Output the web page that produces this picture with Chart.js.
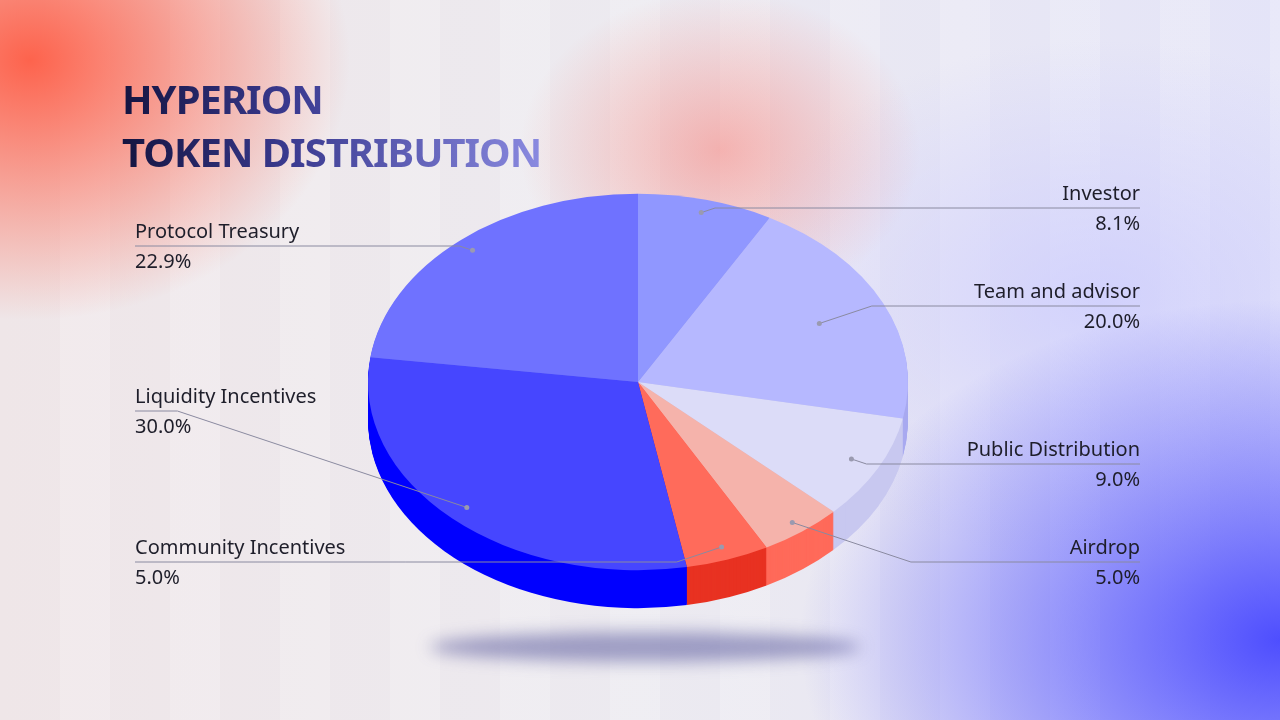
<!DOCTYPE html>
<html><head><meta charset="utf-8">
<script src="https://cdn.jsdelivr.net/npm/chart.js@4/dist/chart.umd.min.js"></script>
<style>
html,body{margin:0;padding:0;width:1280px;height:720px;overflow:hidden}
body{background:
 radial-gradient(ellipse 320px 260px at 30px 60px, rgba(255,85,60,0.9), rgba(255,85,60,0) 100%),
 radial-gradient(ellipse 200px 160px at 720px 150px, rgba(250,120,110,0.5), rgba(250,120,110,0) 100%),
 radial-gradient(ellipse 480px 340px at 1280px 640px, rgba(70,70,255,0.95), rgba(70,70,255,0) 100%),
 radial-gradient(ellipse 380px 260px at 1100px 300px, rgba(200,200,255,0.7), rgba(200,200,255,0) 100%),
 repeating-linear-gradient(90deg, rgba(255,255,255,0) 0 60px, rgba(255,255,255,0.18) 60px 110px),
 linear-gradient(90deg,#efe6e8,#eceaf0 50%,#e4e4f8);font-family:"Noto Sans",sans-serif}
#title{position:absolute;left:122px;top:72px;font-weight:bold;font-size:40px;line-height:53px;letter-spacing:-1px;
 background:linear-gradient(90deg,#141440,#3a3a90 40%,#8a8ae0);-webkit-background-clip:text;background-clip:text;color:transparent}
#shadow{position:absolute;left:430px;top:632px;width:430px;height:30px;border-radius:50%;background:rgba(60,60,140,0.45);filter:blur(8px)}
canvas{position:absolute;left:0;top:0}
</style></head><body>
<div id="shadow"></div>
<div id="title">HYPERION<br>TOKEN DISTRIBUTION</div>
<canvas id="c" width="1280" height="720"></canvas>
<script>
const labels = ['Investor','Team and advisor','Public Distribution','Airdrop','Community Incentives','Liquidity Incentives','Protocol Treasury'];
const values = [8.1, 20.0, 9.0, 5.0, 5.0, 30.0, 22.9];
const topColors = ['#9097ff','#b6b8ff','#dcdcf8','#f5b3ab','#ff6b5b','#4646ff','#6f72ff'];
const sideColors = ['#8088f0','#a8aaf0','#c8c8f0','#ff6a5a','#e83222','#0000ff','#5a5ef0'];
// label placement: [text x, line y, align, dot radius fraction]
const labelPos = [[1140,208,'right',0.93],[1140,306,'right',0.74],[1140,464,'right',0.89],[1140,562,'right',0.94],[135,562,'left',0.93],[135,411,'left',0.92],[135,246,'left',0.93]];

const SY = 0.697, DEPTH = 38;

const pie3d = {
  id: 'pie3d',
  beforeDatasetsDraw(chart) {
    const ctx = chart.ctx, meta = chart.getDatasetMeta(0);
    const a0 = meta.data[0];
    const cx = a0.x, cy = a0.y;
    for (let d = DEPTH; d >= 1; d--) {
      meta.data.forEach((arc, i) => {
        const p = arc.getProps(['startAngle','endAngle','outerRadius']);
        ctx.save();
        ctx.translate(cx, cy + d);
        ctx.scale(1, SY);
        ctx.beginPath();
        ctx.moveTo(0, 0);
        ctx.arc(0, 0, p.outerRadius, p.startAngle, p.endAngle);
        ctx.closePath();
        ctx.fillStyle = sideColors[i];
        ctx.fill();
        ctx.restore();
      });
    }
    ctx.save();
    ctx.translate(cx, cy); ctx.scale(1, SY); ctx.translate(-cx, -cy);
  },
  afterDatasetsDraw(chart) {
    const ctx = chart.ctx, meta = chart.getDatasetMeta(0);
    ctx.restore();
    meta.data.forEach((arc, i) => {
      const p = arc.getProps(['x','y','startAngle','endAngle','outerRadius']);
      const mid = (p.startAngle + p.endAngle) / 2;
      const [tx, ly, al, fr] = labelPos[i];
      const dx = p.x + Math.cos(mid) * p.outerRadius * fr;
      const dy = p.y + Math.sin(mid) * p.outerRadius * fr * SY;
      ctx.strokeStyle = '#8a8aa0'; ctx.lineWidth = 1;
      ctx.beginPath();
      ctx.moveTo(dx, dy);
      const k = Math.abs(ly - dy) * 3;
      const ex = al === 'right' ? dx + k : dx - k;
      ctx.lineTo(ex, ly);
      ctx.lineTo(tx, ly);
      ctx.stroke();
      ctx.fillStyle = '#9a9ab0';
      ctx.beginPath(); ctx.arc(dx, dy, 2.5, 0, Math.PI * 2); ctx.fill();
      ctx.fillStyle = '#1e1e2a';
      ctx.font = '20px "Noto Sans"';
      ctx.textAlign = al;
      ctx.textBaseline = 'alphabetic';
      ctx.fillText(labels[i], tx, ly - 8);
      ctx.fillText(values[i].toFixed(1) + '%', tx, ly + 22);
    });
  }
};

new Chart(document.getElementById('c'), {
  type: 'pie',
  data: { labels: labels, datasets: [{ data: values, backgroundColor: topColors, borderWidth: 0 }] },
  options: {
    responsive: false, animation: false,
    layout: { padding: { left: 368, right: 372, top: 112, bottom: 68 } },
    plugins: { legend: { display: false }, tooltip: { enabled: false } }
  },
  plugins: [pie3d]
});
</script>
</body></html>
